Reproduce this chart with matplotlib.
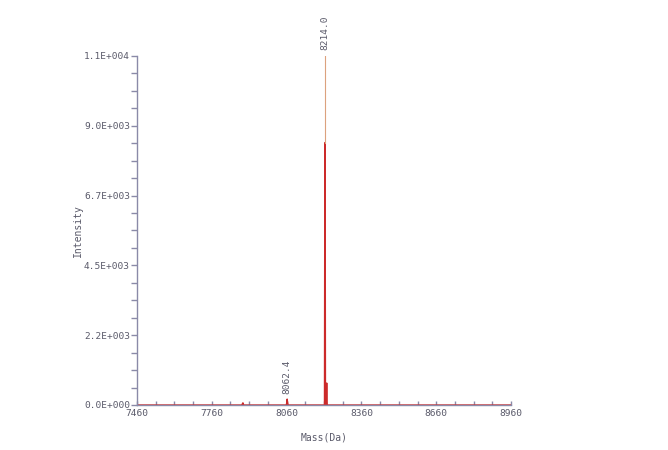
import matplotlib
matplotlib.use("Agg")
import matplotlib.pyplot as plt
from matplotlib.ticker import MultipleLocator, FixedLocator

# Spectrum polyline (mass in Da, intensity)
mass = [7460, 7880, 7883, 7885, 7888, 8059, 8061, 8062.4, 8064, 8066,
        8212, 8213.5, 8214.5, 8216, 8219, 8221, 8223, 8960]
intensity = [0, 0, 40, 70, 0, 0, 90, 190, 90, 0,
             0, 8450, 8450, 0, 0, 708, 0, 0]

# apex of the main peak (drawn thin)
apex_mass = [8214.0, 8214.0]
apex_int = [8450, 11240]

peak_labels_mass = [8062.4, 8214.0]
peak_labels_int = [190, 11240]

x_ticks = [7460, 7760, 8060, 8360, 8660, 8960]
y_ticks = [0, 2248, 4496, 6744, 8992, 11240]
y_tick_labels = ["0.0E+000", "2.2E+003", "4.5E+003", "6.7E+003", "9.0E+003", "1.1E+004"]

axis_col = "#8a8aa8"
text_col = "#5a5a6a"
font = "DejaVu Sans Mono"

fig = plt.figure(figsize=(6.68, 4.5), dpi=100)
ax = fig.add_axes([0.205, 0.1, 0.56, 0.7756])

ax.plot(mass, intensity, color="#cc2a2a", lw=1.0)
ax.plot(apex_mass, apex_int, color="#dca27e", lw=0.8)

for m, v in zip(peak_labels_mass, peak_labels_int):
    ax.annotate(f"{m:.1f}", (m, v), xytext=(0, 4), textcoords="offset points",
                rotation=90, ha="center", va="bottom", fontsize=6.8,
                family=font, color=text_col)

ax.set_xlim(7460, 8960)
ax.set_ylim(0, 11240)
ax.xaxis.set_major_locator(FixedLocator(x_ticks))
ax.xaxis.set_minor_locator(MultipleLocator(75, offset=7460))
ax.yaxis.set_major_locator(FixedLocator(y_ticks))
ax.yaxis.set_minor_locator(MultipleLocator(562))
ax.set_yticklabels(y_tick_labels)

for s in ["top", "right"]:
    ax.spines[s].set_visible(False)
for s in ["left", "bottom"]:
    ax.spines[s].set_color(axis_col)
    ax.spines[s].set_linewidth(1)

ax.tick_params(axis="y", which="major", length=4, width=1, color=axis_col,
               labelsize=6.8, labelcolor=text_col, pad=1)
ax.tick_params(axis="y", which="minor", length=4, width=1, color=axis_col)
ax.tick_params(axis="x", which="both", direction="in", length=3, width=1,
               color=axis_col, labelsize=6.8, labelcolor=text_col, pad=3)
for lab in ax.get_xticklabels() + ax.get_yticklabels():
    lab.set_family(font)

ax.set_xlabel("Mass(Da)", fontsize=7, family=font, color=text_col, labelpad=10)
ax.set_ylabel("Intensity", fontsize=7, family=font, color=text_col, labelpad=1)

fig.savefig("out.png", dpi=100, facecolor="white")
